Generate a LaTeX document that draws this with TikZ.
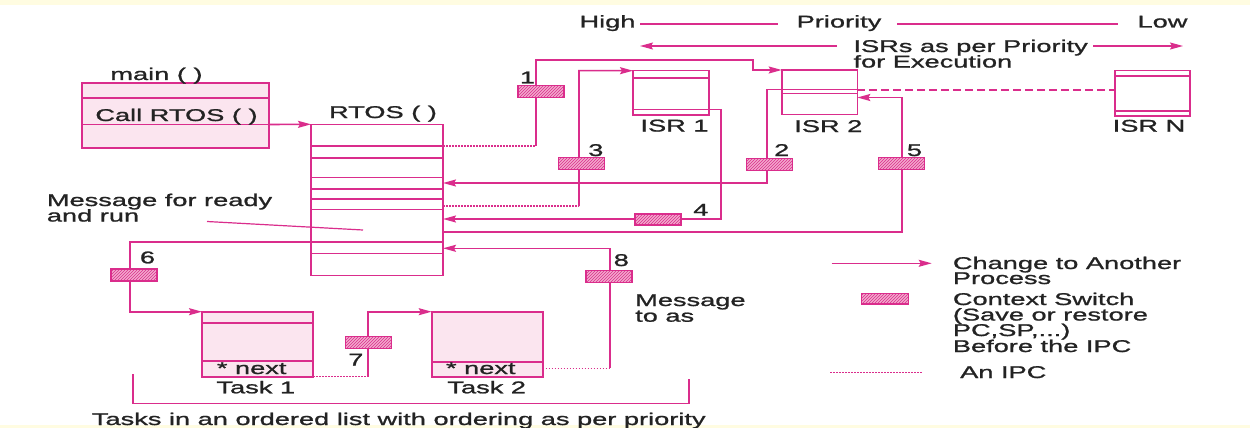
\documentclass[tikz,border=0pt]{standalone}
\usepackage{fontspec}
\setmainfont{Liberation Sans}[FakeStretch=1.6,FakeBold=1.2]
\usetikzlibrary{arrows.meta,patterns}
\definecolor{pk}{RGB}{218,45,140}
\definecolor{pkfill}{RGB}{251,229,239}
\definecolor{pkhatch}{RGB}{242,170,205}
\definecolor{txt}{RGB}{35,35,35}
\definecolor{bgtop}{RGB}{255,252,225}
\begin{document}
\begin{tikzpicture}[x=1pt,y=-1pt,
  box/.style={draw=pk,line width=1.6pt,inner sep=0pt,outer sep=0pt,rectangle},
  pbox/.style={box,fill=pkfill},
  cs/.style={draw=pk,line width=1.2pt,minimum width=46pt,minimum height=12pt,inner sep=0pt,outer sep=0pt,preaction={fill=pkhatch},pattern=north east lines,pattern color=pk},
  lbl/.style={text=txt,inner sep=0pt,font=\fontsize{17}{15.7}\selectfont},
  conn/.style={draw=pk,line width=1.6pt},
  thin/.style={draw=pk,line width=1.2pt},
  arr/.style={conn,-{Stealth[length=13pt,width=7pt,inset=2pt]}},
  tarr/.style={thin,-{Stealth[length=13pt,width=7pt,inset=2pt]}},
  ipc/.style={draw=pk,line width=1.2pt,dash pattern=on 1.5pt off 1.5pt},
  dsh/.style={draw=pk,line width=1.2pt,dash pattern=on 8pt off 4pt},
]
\useasboundingbox (0,0) rectangle (1250,428);
\fill[white] (0,0) rectangle (1250,428);
\fill[bgtop] (0,0) rectangle (1250,5);
\fill[bgtop] (0,425) rectangle (1250,428);

% ---------- boxes ----------
\node[pbox,minimum width=187pt,minimum height=65pt] (main) at (175.5,115.5) {};
\draw[pk,line width=1.6pt] (main.west |- 0,98) -- (main.east |- 0,98);
\draw[pk,line width=1.6pt] (main.west |- 0,124.5) -- (main.east |- 0,124.5);

\node[box,minimum width=132pt,minimum height=151pt] (rtos) at (377,199.8) {};
\foreach \yy in {146,157.7,177.3,188.7,198.7,209.3,241.7,253.3}
  \draw[pk,line width=1.6pt] (rtos.west |- 0,\yy) -- (rtos.east |- 0,\yy);

\node[box,minimum width=76pt,minimum height=44.3pt] (isr1) at (671,92.85) {};
\draw[pk,line width=1.6pt] (isr1.west |- 0,78.3) -- (isr1.east |- 0,78.3);
\draw[pk,line width=1.6pt] (isr1.west |- 0,109.3) -- (isr1.east |- 0,109.3);

\node[box,minimum width=75.6pt,minimum height=44.3pt] (isr2) at (819.5,92.15) {};
\draw[pk,line width=1.6pt] (isr2.west |- 0,89.3) -- (isr2.east |- 0,89.3);
\draw[pk,line width=1.6pt] (isr2.west |- 0,93.3) -- (isr2.east |- 0,93.3);

\node[box,minimum width=75pt,minimum height=45.3pt] (isrn) at (1152.5,93.35) {};
\draw[pk,line width=1.6pt] (isrn.west |- 0,76) -- (isrn.east |- 0,76);
\draw[pk,line width=1.6pt] (isrn.west |- 0,110.7) -- (isrn.east |- 0,110.7);

\node[pbox,minimum width=111pt,minimum height=65pt] (task1) at (257.5,344.2) {};
\draw[pk,line width=1.6pt] (task1.west |- 0,322.7) -- (task1.east |- 0,322.7);
\draw[pk,line width=1.6pt] (task1.west |- 0,361) -- (task1.east |- 0,361);

\node[pbox,minimum width=111pt,minimum height=65pt] (task2) at (487.2,344.2) {};
\draw[pk,line width=1.6pt] (task2.west |- 0,361.7) -- (task2.east |- 0,361.7);

% ---------- connectors ----------
\draw[arr] (main.east |- 0,124.5) -- (rtos.north west);

% 1
\draw[ipc] (rtos.east |- 0,146) -- (535.7,146);
\draw[arr] (535.7,146) -- (535.7,60) -- (753,60) -- (753,70) -- (isr2.north west);
% 2
\draw[arr] (isr2.west |- 0,89.3) -- (766.7,89.3) -- (766.7,183) -- (rtos.east |- 0,183);
% 3
\draw[ipc] (rtos.east |- 0,206) -- (579,206);
\draw[arr] (579,206) -- (579,70.7) -- (isr1.north west);
% 4
\draw[arr] (isr1.east |- 0,109.3) -- (721,109.3) -- (721,219) -- (rtos.east |- 0,219);
% 5
\draw[arr] (rtos.east |- 0,231.7) -- (901.7,231.7) -- (901.7,97.5) -- (isr2.east |- 0,97.5);
% ISR2 .. ISR N
\draw[dsh] (isr2.east |- 0,90) -- (isrn.west |- 0,90);
% 6
\draw[arr] (rtos.west |- 0,241.7) -- (130,241.7) -- (130,311.7) -- (task1.north west);
% 7
\draw[ipc] (task1.south east) -- (368,376.7);
\draw[arr] (368,376.7) -- (368,311.7) -- (task2.north west);
% 8
\draw[ipc] (task2.east |- 0,368.3) -- (610,368.3);
\draw[arr] (610,368.3) -- (610,248.3) -- (rtos.east |- 0,248.3);

% bracket
\draw[conn] (133,374) -- (133,403.3) -- (689,403.3) -- (689,379);

% pointer for message
\draw[thin] (207,221.5) -- (363,230);

% ---------- context switches ----------
\node[cs] (c1) at (541,91.7) {};
\node[cs] (c2) at (769.7,164.5) {};
\node[cs] (c3) at (581.5,163.8) {};
\node[cs,minimum height=11pt] (c4) at (658,219.5) {};
\node[cs] (c5) at (901.3,163.8) {};
\node[cs] (c6) at (134,275) {};
\node[cs] (c7) at (368.3,342.8) {};
\node[cs] (c8) at (609,276.5) {};

% ---------- priority header ----------
\node[lbl,anchor=base] (thigh) at (607.5,27.5) {High};
\node[lbl,anchor=base] (tprio) at (839,27.5) {Priority};
\node[lbl,anchor=base] (tlow) at (1162.5,27.5) {Low};
\draw[thin] (640,24) -- (778,24);
\draw[thin] (897,24) -- (1118,24);
\node[lbl,anchor=base west] (tisrs) at (853.3,52) {ISRs as per Priority};
\node[lbl,anchor=base west] (texec) at (853.3,67.5) {for Execution};
\draw[tarr] (837,46) -- (640,46);
\draw[tarr] (1093,46) -- (1183,46);

% ---------- texts ----------
\node[lbl,anchor=base] (tmain) at (156.5,80) {main ( )};
\node[lbl,anchor=base] (tcall) at (176.5,121) {Call RTOS ( )};
\node[lbl,anchor=base] (trtos) at (383,118) {RTOS ( )};
\node[lbl,anchor=base] (tisr1) at (674.5,131.5) {ISR 1};
\node[lbl,anchor=base] (tisr2) at (828.3,132) {ISR 2};
\node[lbl,anchor=base] (tisrn) at (1149,131.7) {ISR N};
\node[lbl,anchor=base] (n1) at (527.5,83.3) {1};
\node[lbl,anchor=base] (n2) at (781.7,156) {2};
\node[lbl,anchor=base] (n3) at (595.8,156) {3};
\node[lbl,anchor=base] (n4) at (700.8,215.7) {4};
\node[lbl,anchor=base] (n5) at (914.5,156) {5};
\node[lbl,anchor=base] (n6) at (147.5,263.3) {6};
\node[lbl,anchor=base] (n7) at (355.8,365.5) {7};
\node[lbl,anchor=base] (n8) at (621.3,266) {8};
\node[lbl,anchor=base west] (tmsg1) at (46.7,206) {Message for ready};
\node[lbl,anchor=base west] (tmsg2) at (46.7,221.5) {and run};
\node[lbl,anchor=base west] (tmsg3) at (635,306) {Message};
\node[lbl,anchor=base west] (tmsg4) at (635,321.7) {to as};
\node[lbl,anchor=base] (tnext1) at (251.7,374) {* next};
\node[lbl,anchor=base] (tnext2) at (480.8,374) {* next};
\node[lbl,anchor=base] (ttask1) at (255.8,393.3) {Task 1};
\node[lbl,anchor=base] (ttask2) at (486.7,393.3) {Task 2};
\node[lbl,anchor=base west] (tlist) at (91.7,425) {Tasks in an ordered list with ordering as per priority};

% ---------- legend ----------
\coordinate (la1) at (831.7,263.3);
\coordinate (la2) at (931.7,263.3);
\draw[arr] (la1) -- (la2);
\node[lbl,anchor=base west] (lg1) at (952.7,269) {Change to Another};
\node[lbl,anchor=base west] (lg2) at (952.7,284) {Process};
\node[cs,minimum width=46.6pt,minimum height=10.7pt] (lcs) at (885,298.7) {};
\node[lbl,anchor=base west] (lg3) at (952.7,305) {Context Switch};
\node[lbl,anchor=base west] (lg4) at (952.7,320.5) {(Save or restore};
\node[lbl,anchor=base west] (lg5) at (952.7,336) {PC,SP,...)};
\node[lbl,anchor=base west] (lg6) at (952.7,352) {Before the IPC};
\coordinate (li1) at (830,372.7);
\coordinate (li2) at (921.7,372.7);
\draw[ipc] (li1) -- (li2);
\node[lbl,anchor=base west] (lg7) at (960,378) {An IPC};
\end{tikzpicture}
\end{document}
